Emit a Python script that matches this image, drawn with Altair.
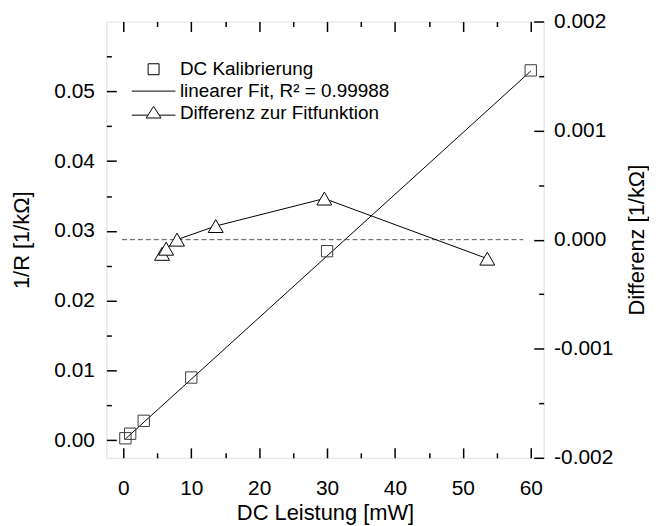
import altair as alt
import pandas as pd

# ---- data ----
dc_x = [0.3, 1.0, 3.0, 10.0, 30.0, 60.0]
dc_y = [0.0003, 0.00095, 0.0028, 0.0090, 0.0271, 0.0530]

fit_x = [0.3, 60.0]
fit_y = [0.0002, 0.0529]

diff_x = [5.7, 6.3, 7.9, 13.6, 29.6, 53.6]
diff_y = [-0.00013, -0.000083, 0.0, 0.000125, 0.000377, -0.000174]

zero_x = [-0.2, 58.9]
zero_y = [0.0, 0.0]

legend_labels = ["DC Kalibrierung", "linearer Fit, R² = 0.99988", "Differenz zur Fitfunktion"]

x_major = [0, 10, 20, 30, 40, 50, 60]
x_minor = [5, 15, 25, 35, 45, 55]
left_major = [0.0, 0.01, 0.02, 0.03, 0.04, 0.05]
left_minor = [0.005, 0.015, 0.025, 0.035, 0.045, 0.055]
right_major = [-0.002, -0.001, 0.0, 0.001, 0.002]
right_minor = [-0.0015, -0.0005, 0.0005, 0.0015]

df_dc = pd.DataFrame({"x": dc_x, "y": dc_y})
df_fit = pd.DataFrame({"x": fit_x, "y": fit_y})
df_diff = pd.DataFrame({"x": diff_x, "y": diff_y})
df_zero = pd.DataFrame({"x": zero_x, "y": zero_y})
df_leg = pd.DataFrame({"label": legend_labels})

FONT = "Liberation Sans"
W, H = 440, 439

xs = alt.Scale(domain=[-2.5, 61.9], nice=False, zero=False)
yl = alt.Scale(domain=[-0.0025, 0.06], nice=False, zero=False)
yr = alt.Scale(domain=[-0.002, 0.002], nice=False, zero=False)

base = dict(grid=False, domain=False, labelFont=FONT, labelColor="black",
            titleFont=FONT, titleColor="black", titleFontWeight="normal",
            labelOverlap=False, labelFlush=False)

# inward ticks: a negative length given as an expression
MAJ = alt.ExprRef("-10")
MIN = alt.ExprRef("-5")


def tick_axis(orient, values, size):
    return alt.Axis(orient=orient, values=values, tickSize=size,
                    labels=False, title=None, ticks=True, tickColor="black",
                    tickWidth=1.5, **base)


def label_axis(orient, values, title, fmt, pad, tpad, **kw):
    return alt.Axis(orient=orient, values=values, title=title, format=fmt,
                    ticks=False, tickSize=0, labelPadding=pad, titlePadding=tpad,
                    labelFontSize=21, titleFontSize=22, **base, **kw)


# label axes
bottom_labels = label_axis("bottom", x_major, "DC Leistung [mW]", "d", 20, 4)
left_labels = label_axis("left", left_major, "1/R [1/kΩ]", ".2f", 12, 20)
right_labels = alt.Axis(
    orient="right", values=right_major, title="Differenz [1/kΩ]",
    labelExpr="(datum.value < 0 ? '-' : '') + format(abs(datum.value), '.3f')",
    ticks=False, tickSize=0, labelPadding=10, titlePadding=14,
    titleAngle=270, titleBaseline="top",
    labelFontSize=21, titleFontSize=22, **base)

# tick axes
bottom_major = tick_axis("bottom", x_major, MAJ)
bottom_minor = tick_axis("bottom", x_minor, MIN)
top_major = tick_axis("top", x_major, MAJ)
top_minor = tick_axis("top", x_minor, MIN)
left_major_ax = tick_axis("left", left_major, MAJ)
left_minor_ax = tick_axis("left", left_minor, MIN)
right_major_ax = tick_axis("right", right_major, MAJ)
right_minor_ax = tick_axis("right", right_minor, MIN)

dashed = alt.Chart(df_zero).mark_line(color="#555555", strokeWidth=1, strokeDash=[5, 3]).encode(
    x=alt.X("x:Q", scale=xs, axis=top_minor),
    y=alt.Y("y:Q", scale=yr, axis=right_minor_ax),
)

fit = alt.Chart(df_fit).mark_line(color="black", strokeWidth=1).encode(
    x=alt.X("x:Q", scale=xs, axis=top_major),
    y=alt.Y("y:Q", scale=yl, axis=left_major_ax),
)

fit_guides = alt.Chart(df_fit).mark_line(color="black", strokeWidth=1, opacity=0).encode(
    x=alt.X("x:Q", scale=xs, axis=bottom_minor),
    y=alt.Y("y:Q", scale=yl, axis=left_minor_ax),
)

diff_line = alt.Chart(df_diff).mark_line(color="black", strokeWidth=1).encode(
    x=alt.X("x:Q", scale=xs, axis=bottom_major),
    y=alt.Y("y:Q", scale=yr, axis=right_major_ax),
)

diff_pts = alt.Chart(df_diff).mark_point(
    shape="triangle-up", filled=True, fill="white", stroke="black",
    strokeWidth=1, size=225, opacity=1).encode(
    x=alt.X("x:Q", scale=xs, axis=None),
    y=alt.Y("y:Q", scale=yr, axis=right_labels),
)

squares = alt.Chart(df_dc).mark_point(
    shape="square", filled=False, color="#3a3a3a", strokeWidth=1, size=130, opacity=1).encode(
    x=alt.X("x:Q", scale=xs, axis=bottom_labels),
    y=alt.Y("y:Q", scale=yl, axis=left_labels),
)

sym_square = "M-0.25,-0.25H0.25V0.25H-0.25Z"
sym_line = "M-1,0H1"
sym_tri = "M-1,0.1H-0.26M0.26,0.1H1M0,-0.3L0.34,0.23L-0.34,0.23Z"

legend_layer = alt.Chart(df_leg).mark_point(filled=False, color="black", opacity=0, strokeWidth=1).encode(
    shape=alt.Shape(
        "label:N",
        scale=alt.Scale(domain=legend_labels, range=[sym_square, sym_line, sym_tri]),
        legend=alt.Legend(
            title=None, orient="none", legendX=25, legendY=37,
            labelFont=FONT, labelFontSize=19, labelColor="black", labelLimit=500,
            symbolSize=1936, symbolStrokeWidth=1, symbolStrokeColor="black",
            symbolOpacity=1, clipHeight=22, rowPadding=0, labelOffset=4, padding=0,
        ),
    )
)

chart = alt.layer(dashed, fit, fit_guides, diff_line, diff_pts, squares, legend_layer).resolve_scale(
    y="independent"
).resolve_axis(
    x="independent", y="independent"
).properties(
    width=W, height=H,
    autosize=alt.AutoSizeParams(type="none"),
    padding={"left": 99, "top": 12, "right": 106, "bottom": 66},
).configure_view(
    stroke="black", strokeWidth=1.6
).configure(
    font=FONT, background="white"
)

chart.save("out.html", embed_options={"renderer": "svg", "actions": False})
